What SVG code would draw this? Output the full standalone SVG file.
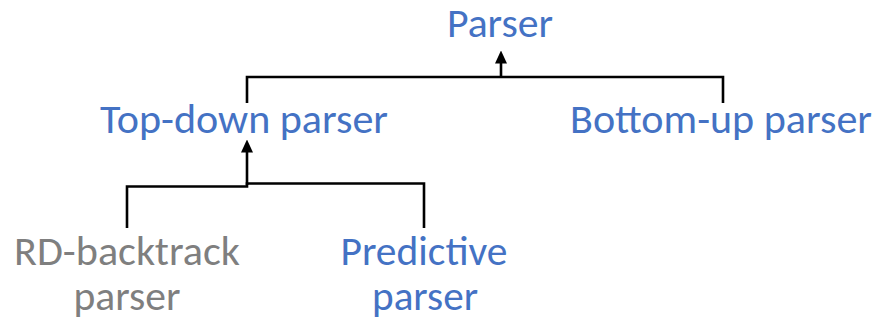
<svg xmlns="http://www.w3.org/2000/svg" width="875" height="321" viewBox="0 0 875 321">
  <style>
    .lbl { font-family: Carlito, Lato, "Open Sans", sans-serif; font-size: 40px; text-anchor: middle; }
    .blue { fill: #4472C4; }
    .grey { fill: #7F7F7F; }
    .wire { fill: none; stroke: #000; stroke-width: 2.6; }
  </style>
  <defs>
    <!-- filled triangle; its base sits on the line end, the tip runs on 13px -->
    <marker id="arrow" viewBox="0 0 13 12" refX="0.5" refY="6" markerWidth="13" markerHeight="12" markerUnits="userSpaceOnUse" orient="auto">
      <path d="M0,0 L13,6 L0,12 Z" fill="#000"/>
    </marker>
  </defs>

  <g id="connectors">
    <!-- Top-down / Bottom-up into Parser -->
    <path class="wire" d="M247,103 V77 H723 V103"/>
    <path class="wire" d="M501,77 V63" marker-end="url(#arrow)"/>
    <!-- RD-backtrack / Predictive into Top-down -->
    <path class="wire" d="M127,228 V186.5 H247 V183.5 H424 V228"/>
    <path class="wire" d="M247,185 V152" marker-end="url(#arrow)"/>
  </g>

  <g id="parser">
    <text class="lbl blue" x="500" y="37" textLength="106" lengthAdjust="spacingAndGlyphs">Parser</text>
  </g>
  <g id="top-down">
    <text class="lbl blue" x="244" y="133" textLength="288" lengthAdjust="spacingAndGlyphs">Top-down parser</text>
  </g>
  <g id="bottom-up">
    <text class="lbl blue" x="721" y="133" textLength="302" lengthAdjust="spacingAndGlyphs">Bottom-up parser</text>
  </g>
  <g id="rd-backtrack">
    <text class="lbl grey" x="127" y="265" textLength="226" lengthAdjust="spacingAndGlyphs">RD-backtrack</text>
    <text class="lbl grey" x="127" y="310" textLength="107" lengthAdjust="spacingAndGlyphs">parser</text>
  </g>
  <g id="predictive">
    <text class="lbl blue" x="424" y="265" textLength="167" lengthAdjust="spacingAndGlyphs">Predictive</text>
    <text class="lbl blue" x="425" y="310" textLength="106" lengthAdjust="spacingAndGlyphs">parser</text>
  </g>
</svg>
